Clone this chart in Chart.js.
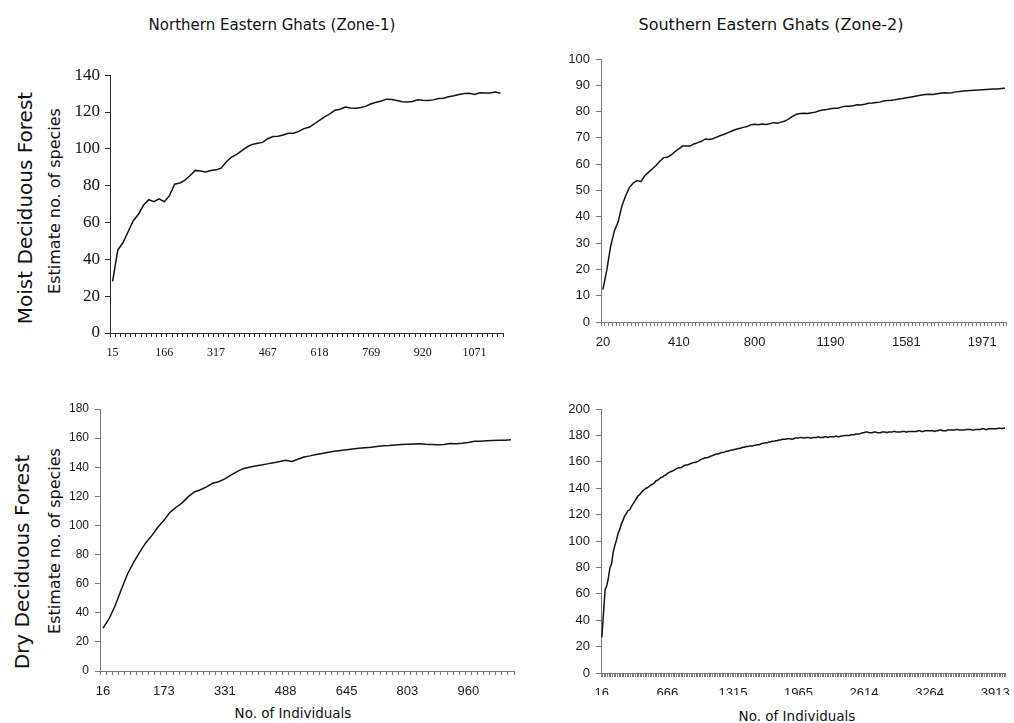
<!DOCTYPE html>
<html>
<head>
<meta charset="utf-8">
<script src="https://cdn.jsdelivr.net/npm/chart.js@4.4.1/dist/chart.umd.min.js"></script>
<style>
  html, body { margin: 0; padding: 0; background: #fff; }
  body { width: 1014px; height: 723px; position: relative; overflow: hidden;
         font-family: "DejaVu Sans", Verdana, sans-serif; color: #111; }
  canvas { position: absolute; }
  .lbl { position: absolute; white-space: nowrap; transform: translate(-50%, -50%); line-height: 1; }
  .rot { transform: translate(-50%, -50%) rotate(-90deg); }
</style>
</head>
<body>
<div class="lbl" style="left:272px;top:25px;font-size:15px;">Northern Eastern Ghats (Zone-1)</div>
<div class="lbl" style="left:771px;top:25px;font-size:16px;">Southern Eastern Ghats (Zone-2)</div>
<div class="lbl rot" style="left:25px;top:208px;font-size:20px;">Moist Deciduous Forest</div>
<div class="lbl rot" style="left:22px;top:562px;font-size:20px;">Dry Deciduous Forest</div>
<div class="lbl rot" style="left:55px;top:201px;font-size:16px;">Estimate no. of species</div>
<div class="lbl rot" style="left:55px;top:541px;font-size:16px;">Estimate no. of species</div>
<div class="lbl" style="left:293px;top:714px;font-size:13.5px;">No. of Individuals</div>
<div class="lbl" style="left:797px;top:717px;font-size:13.5px;">No. of Individuals</div>

<canvas id="moistZ1"></canvas>
<canvas id="moistZ2"></canvas>
<canvas id="dryZ1"></canvas>
<canvas id="dryZ2"></canvas>

<script>
// Estimated species richness along the sampling sequence (one value per category step)
const moistZone1Species = [
  28, 45, 49, 55, 61, 64.5, 69.5, 72.4, 71.3, 72.8,
  71.3, 74.6, 80.8, 81.5, 83, 85.5, 88.3, 88, 87.4, 88.2,
  88.6, 89.5, 93, 95.5, 97, 99, 101, 102.4, 103, 103.5,
  105.5, 106.7, 106.8, 107.5, 108.5, 108.5, 109.5, 111, 111.7, 113.5,
  115.5, 117.4, 119, 121, 121.5, 122.7, 122.2, 122, 122.5, 123.2,
  124.5, 125.3, 126, 127, 126.8, 126.3, 125.6, 125.4, 125.7, 126.6,
  126.4, 126.3, 126.6, 127.3, 127.5, 128.3, 128.8, 129.5, 130, 130.2,
  129.5, 130.5, 130.4, 130.3, 130.9, 130.2
];
const moistZone1Ticks = ['15', '166', '317', '467', '618', '769', '920', '1071'];

const moistZone2Species = [
  12.3, 19.5, 28.5, 34.5, 38, 44, 48, 51.2, 52.8, 53.8,
  53.4, 55.5, 56.9, 58.2, 59.5, 61.1, 62.5, 62.6, 63.5, 64.8,
  65.8, 66.9, 66.9, 66.9, 67.7, 68.2, 68.7, 69.6, 69.4, 69.7,
  70.3, 70.9, 71.4, 72, 72.6, 73.2, 73.6, 74, 74.3, 75,
  75.2, 75, 75.3, 75.1, 75.4, 75.8, 75.6, 76, 76.4, 77.2,
  78.2, 79, 79.3, 79.4, 79.3, 79.6, 79.8, 80.3, 80.6, 80.8,
  81.1, 81.3, 81.3, 81.8, 82, 82, 82.2, 82.6, 82.5, 82.8,
  83.2, 83.3, 83.5, 83.6, 84, 84.2, 84.3, 84.5, 84.8, 85,
  85.3, 85.5, 85.7, 86, 86.3, 86.5, 86.6, 86.5, 86.8, 87,
  87.2, 87.1, 87.2, 87.5, 87.6, 87.8, 87.9, 88, 88.1, 88.2,
  88.3, 88.4, 88.5, 88.6, 88.6, 88.8, 88.9
];
const moistZone2Ticks = ['20', '410', '800', '1190', '1581', '1971'];

const dryZone1Species = [
  29.5, 36, 45, 56, 66.5, 74.5, 81.5, 88, 93, 98.8,
  103.5, 109, 112.5, 115.5, 119.8, 123, 124.5, 126.5, 129, 130,
  132, 134.5, 137, 139, 140, 140.8, 141.5, 142.3, 143, 144,
  144.8, 144, 145.5, 147, 147.8, 148.7, 149.5, 150.3, 151, 151.5,
  152, 152.5, 153, 153.4, 153.8, 154.3, 154.8, 155, 155.3, 155.6,
  155.8, 156, 156.1, 155.7, 155.6, 155.4, 155.6, 156.3, 156.2, 156.4,
  157, 157.8, 157.9, 158.2, 158.4, 158.6, 158.5, 158.9
];
const dryZone1Ticks = ['16', '173', '331', '488', '645', '803', '960'];

const dryZone2Species = [
  27, 45, 63, 66, 72, 80, 83, 92, 97, 101,
  106, 109, 113, 116, 119, 121, 123, 123.5, 126, 128,
  130, 132, 134, 135, 136.5, 138, 139, 140, 140.5, 141.5,
  142.5, 143, 144, 145.5, 146, 147, 148, 148.5, 149.5, 150,
  151, 152, 152.5, 153, 153.5, 154.5, 155, 155.5, 155.5, 156,
  157, 157.5, 157.5, 158, 158.5, 159, 159.5, 159.5, 160, 160.5,
  161.5, 162, 162.5, 163, 163, 163.5, 164, 164.5, 165, 165.5,
  166, 166, 166.5, 167, 167, 167.5, 168, 168, 168.5, 169,
  169, 169.5, 169.5, 170, 170, 170.5, 171, 171, 171.5, 171.5,
  172, 172, 172, 172.5, 172.5, 173, 173, 173.5, 174, 174,
  174.5, 174.5, 175, 175, 175.5, 175.5, 176, 176, 176.5, 176.5,
  177, 177, 177, 177.5, 177.5, 177.5, 177, 177.5, 178, 178,
  178, 178.5, 178.5, 178, 178, 178.5, 178.5, 178, 178, 178.5,
  178.5, 178.5, 179, 178.5, 178.5, 178.5, 179, 179, 178.5, 179,
  179, 179, 179, 179.5, 179, 179, 179.5, 179.5, 180, 180,
  180, 180, 180.5, 180.5, 180.5, 181, 181, 181, 181.5, 182,
  182, 182.5, 182.5, 182, 182, 182, 182.5, 182.5, 182, 182,
  182, 182.5, 182.5, 182.5, 182, 182.5, 182.5, 182.5, 183, 183,
  182.5, 182.5, 182.5, 183, 183, 183, 182.5, 183, 183, 183,
  183, 183, 183, 183.5, 183.5, 183, 183, 183.5, 183.5, 183.5,
  183.5, 183.5, 183.5, 183, 183.5, 183.5, 184, 184, 183.5, 183.5,
  183.5, 184, 184, 184, 184, 184, 184.5, 184.5, 184, 184,
  184, 184, 184.5, 184.5, 184.5, 184.5, 184, 184, 184.5, 184.5,
  184.5, 184.5, 185, 185, 184.5, 184.5, 185, 185, 185, 185,
  185, 185, 185.5, 185.5, 185, 185.5, 185.5
];
const dryZone2Ticks = ['16', '666', '1315', '1965', '2614', '3264', '3913'];

// Draws one rarefaction panel: a category x axis with a tick per step and a label every `every` steps
function drawPanel(id, box, values, tickText, every, yMax, yStep, look) {
  const canvas = document.getElementById(id);
  canvas.width = box.w;
  canvas.height = box.h;
  canvas.style.left = box.left + 'px';
  canvas.style.top = box.top + 'px';
  canvas.style.width = box.w + 'px';
  canvas.style.height = box.h + 'px';

  new Chart(canvas, {
    type: 'line',
    data: {
      labels: values.map((_, i) => i),
      datasets: [{
        data: values,
        borderColor: '#141414',
        borderWidth: 1.5,
        pointRadius: 0,
        tension: 0,
        fill: false
      }]
    },
    options: {
      responsive: false,
      animation: false,
      events: [],
      layout: { padding: { top: box.padTop, right: box.padRight, left: 0, bottom: 0 } },
      plugins: { legend: { display: false }, tooltip: { enabled: false } },
      scales: {
        x: {
          type: 'category',
          offset: true,
          grid: { offset: true, drawOnChartArea: false, drawTicks: true, tickLength: 4,
                  color: look.axis, lineWidth: 1 },
          border: { color: look.axis, width: 1 },
          ticks: {
            autoSkip: false, maxRotation: 0, minRotation: 0,
            padding: look.xPad, color: look.text, font: look.xFont,
            callback: (v, i) => (i % every === 0 && tickText[i / every] !== undefined) ? tickText[i / every] : ''
          },
          afterFit: s => { s.height = box.xh; }
        },
        y: {
          min: 0, max: yMax,
          grid: { drawOnChartArea: false, drawTicks: true, tickLength: 5, color: look.axis, lineWidth: 1 },
          border: { color: look.axis, width: 1 },
          ticks: { stepSize: yStep, padding: look.yPad, color: look.text, font: look.yFont },
          afterFit: s => { s.width = box.yw; }
        }
      }
    }
  });
}

const serifLook = {
  axis: '#2a2a2a', text: '#111',
  xFont: { family: '"Liberation Serif", "Times New Roman", serif', size: 12 },
  yFont: { family: '"Liberation Serif", "Times New Roman", serif', size: 17 },
  xPad: 9, yPad: 5
};
const sansLook = (xs, ys) => ({
  axis: '#7a7a7a', text: '#1a1a1a',
  xFont: { family: '"Liberation Sans", Arial, sans-serif', size: xs },
  yFont: { family: '"Liberation Sans", Arial, sans-serif', size: ys },
  xPad: 9, yPad: 6
});

drawPanel('moistZ1', { left: 60, top: 60, w: 450, h: 310, yw: 50, xh: 37, padTop: 11, padRight: 7 },
  moistZone1Species, moistZone1Ticks, 10, 140, 20, serifLook);
drawPanel('moistZ2', { left: 550, top: 45, w: 464, h: 305, yw: 51, xh: 28, padTop: 14, padRight: 1 },
  moistZone2Species, moistZone2Ticks, 20, 100, 10, sansLook(13, 13));
drawPanel('dryZ1', { left: 50, top: 395, w: 470, h: 300, yw: 50, xh: 24, padTop: 14, padRight: 5 },
  dryZone1Species, dryZone1Ticks, 10, 180, 20, sansLook(13, 12));
drawPanel('dryZ2', { left: 550, top: 395, w: 464, h: 300, yw: 51, xh: 22, padTop: 14, padRight: 2 },
  dryZone2Species, dryZone2Ticks, 40, 200, 20, sansLook(13, 13));
</script>
</body>
</html>
